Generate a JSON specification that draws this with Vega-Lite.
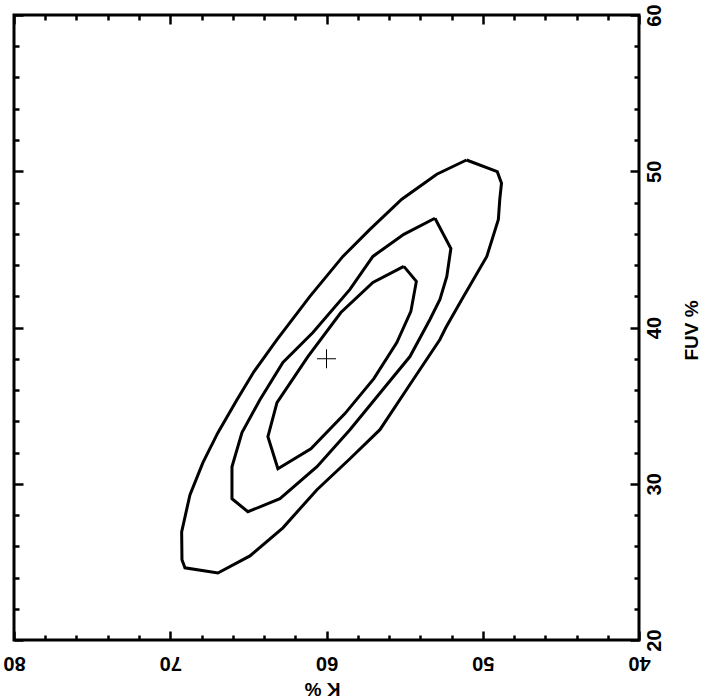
{
  "$schema": "https://vega.github.io/schema/vega-lite/v6.json",
  "width": 625,
  "height": 625,
  "autosize": {"type": "none"},
  "padding": {"left": 14, "top": 15, "right": 67, "bottom": 59},
  "background": "white",
  "config": {
    "view": {"stroke": "black", "strokeWidth": 3},
    "axis": {
      "domain": false,
      "grid": false,
      "tickColor": "black",
      "tickWidth": 2.5,
      "labelFont": "Liberation Sans",
      "labelFontWeight": "bold",
      "labelFontSize": 20,
      "labelColor": "black",
      "titleFont": "Liberation Sans",
      "titleFontWeight": "bold",
      "titleFontSize": 19,
      "titleColor": "black"
    }
  },
  "datasets": {
    "contours": [
      {"c": "outer", "i": 0, "k": 51.04, "f": 50.72},
      {"c": "outer", "i": 1, "k": 49.07, "f": 49.97},
      {"c": "outer", "i": 2, "k": 48.8, "f": 49.23},
      {"c": "outer", "i": 3, "k": 48.91, "f": 48.21},
      {"c": "outer", "i": 4, "k": 49.0, "f": 46.92},
      {"c": "outer", "i": 5, "k": 49.74, "f": 44.55},
      {"c": "outer", "i": 6, "k": 51.34, "f": 41.79},
      {"c": "outer", "i": 7, "k": 52.36, "f": 40.0},
      {"c": "outer", "i": 8, "k": 52.74, "f": 39.23},
      {"c": "outer", "i": 9, "k": 54.66, "f": 36.35},
      {"c": "outer", "i": 10, "k": 56.58, "f": 33.46},
      {"c": "outer", "i": 11, "k": 58.5, "f": 31.6},
      {"c": "outer", "i": 12, "k": 60.61, "f": 29.62},
      {"c": "outer", "i": 13, "k": 62.79, "f": 27.18},
      {"c": "outer", "i": 14, "k": 64.9, "f": 25.38},
      {"c": "outer", "i": 15, "k": 66.95, "f": 24.29},
      {"c": "outer", "i": 16, "k": 69.06, "f": 24.62},
      {"c": "outer", "i": 17, "k": 69.25, "f": 25.13},
      {"c": "outer", "i": 18, "k": 69.27, "f": 26.92},
      {"c": "outer", "i": 19, "k": 68.74, "f": 29.29},
      {"c": "outer", "i": 20, "k": 67.91, "f": 31.35},
      {"c": "outer", "i": 21, "k": 66.95, "f": 33.27},
      {"c": "outer", "i": 22, "k": 65.73, "f": 35.38},
      {"c": "outer", "i": 23, "k": 64.64, "f": 37.18},
      {"c": "outer", "i": 24, "k": 63.17, "f": 39.23},
      {"c": "outer", "i": 25, "k": 61.06, "f": 41.99},
      {"c": "outer", "i": 26, "k": 58.95, "f": 44.55},
      {"c": "outer", "i": 27, "k": 57.22, "f": 46.28},
      {"c": "outer", "i": 28, "k": 55.18, "f": 48.21},
      {"c": "outer", "i": 29, "k": 52.94, "f": 49.81},
      {"c": "outer", "i": 30, "k": 51.04, "f": 50.72},
      {"c": "middle", "i": 0, "k": 53.06, "f": 46.99},
      {"c": "middle", "i": 1, "k": 52.04, "f": 45.06},
      {"c": "middle", "i": 2, "k": 52.3, "f": 43.27},
      {"c": "middle", "i": 3, "k": 52.74, "f": 41.79},
      {"c": "middle", "i": 4, "k": 53.38, "f": 40.51},
      {"c": "middle", "i": 5, "k": 54.66, "f": 38.14},
      {"c": "middle", "i": 6, "k": 56.39, "f": 36.03},
      {"c": "middle", "i": 7, "k": 58.5, "f": 33.46},
      {"c": "middle", "i": 8, "k": 60.61, "f": 31.09},
      {"c": "middle", "i": 9, "k": 62.98, "f": 29.04},
      {"c": "middle", "i": 10, "k": 65.03, "f": 28.21},
      {"c": "middle", "i": 11, "k": 66.05, "f": 29.04},
      {"c": "middle", "i": 12, "k": 66.05, "f": 31.09},
      {"c": "middle", "i": 13, "k": 65.41, "f": 33.27},
      {"c": "middle", "i": 14, "k": 64.26, "f": 35.38},
      {"c": "middle", "i": 15, "k": 62.79, "f": 37.76},
      {"c": "middle", "i": 16, "k": 60.87, "f": 39.68},
      {"c": "middle", "i": 17, "k": 58.5, "f": 42.44},
      {"c": "middle", "i": 18, "k": 57.03, "f": 44.55},
      {"c": "middle", "i": 19, "k": 55.05, "f": 45.96},
      {"c": "middle", "i": 20, "k": 53.06, "f": 46.99},
      {"c": "inner", "i": 0, "k": 55.05, "f": 43.91},
      {"c": "inner", "i": 1, "k": 54.25, "f": 42.95},
      {"c": "inner", "i": 2, "k": 54.6, "f": 41.03},
      {"c": "inner", "i": 3, "k": 55.5, "f": 39.04},
      {"c": "inner", "i": 4, "k": 56.97, "f": 36.73},
      {"c": "inner", "i": 5, "k": 58.82, "f": 34.49},
      {"c": "inner", "i": 6, "k": 61.0, "f": 32.24},
      {"c": "inner", "i": 7, "k": 63.11, "f": 30.96},
      {"c": "inner", "i": 8, "k": 63.75, "f": 33.01},
      {"c": "inner", "i": 9, "k": 63.17, "f": 35.19},
      {"c": "inner", "i": 10, "k": 61.19, "f": 38.14},
      {"c": "inner", "i": 11, "k": 59.08, "f": 40.96},
      {"c": "inner", "i": 12, "k": 57.03, "f": 42.88},
      {"c": "inner", "i": 13, "k": 55.05, "f": 43.91}
    ],
    "best": [{"k": 60, "f": 38}]
  },
  "layer": [
    {
      "data": {"name": "contours"},
      "mark": {"type": "line", "color": "black", "strokeWidth": 3, "strokeJoin": "miter"},
      "encoding": {
        "x": {
          "field": "k", "type": "quantitative",
          "scale": {"domain": [80, 40], "nice": false, "zero": false},
          "axis": {
            "orient": "bottom",
            "title": "K %",
            "titleAngle": 180,
            "titleBaseline": "alphabetic",
            "titleAlign": "center",
            "titleX": 308,
            "titleY": 42,
            "values": [40,42,44,46,48,50,52,54,56,58,60,62,64,66,68,70,72,74,76,78,80],
            "labelExpr": "datum.value % 10 === 0 ? datum.value : ''",
            "labelAngle": 180,
            "labelAlign": "center",
            "labelBaseline": "alphabetic",
            "labelPadding": 25,
            "labelFlush": false,
            "labelOverlap": false,
            "tickSize": {"condition": {"test": "datum.value % 10 === 0", "value": -9}, "value": -5}
          }
        },
        "y": {
          "field": "f", "type": "quantitative",
          "scale": {"domain": [20, 60], "nice": false, "zero": false},
          "axis": {
            "orient": "right",
            "title": "FUV %",
            "titleAngle": -90,
            "titleBaseline": "alphabetic",
            "titleAlign": "center",
            "titleX": 58,
            "titleY": 315,
            "values": [20,22,24,26,28,30,32,34,36,38,40,42,44,46,48,50,52,54,56,58,60],
            "labelExpr": "datum.value % 10 === 0 ? datum.value : ''",
            "labelAngle": -90,
            "labelAlign": "center",
            "labelBaseline": "alphabetic",
            "labelPadding": 30,
            "labelFlush": false,
            "labelOverlap": false,
            "tickSize": {"condition": {"test": "datum.value % 10 === 0", "value": -9}, "value": -5}
          }
        },
        "detail": {"field": "c"},
        "order": {"field": "i", "type": "quantitative"}
      }
    },
    {
      "data": {"name": "best"},
      "mark": {"type": "point", "shape": "M-1,0H1M0,-1V1", "size": 361, "filled": false, "stroke": "black", "strokeWidth": 1, "opacity": 1},
      "encoding": {
        "x": {
          "field": "k", "type": "quantitative",
          "axis": {
            "orient": "top", "title": null, "labels": false,
            "values": [40,42,44,46,48,50,52,54,56,58,60,62,64,66,68,70,72,74,76,78,80],
            "tickSize": {"condition": {"test": "datum.value % 10 === 0", "value": -9}, "value": -5}
          }
        },
        "y": {
          "field": "f", "type": "quantitative",
          "axis": {
            "orient": "left", "title": null, "labels": false,
            "values": [20,22,24,26,28,30,32,34,36,38,40,42,44,46,48,50,52,54,56,58,60],
            "tickSize": {"condition": {"test": "datum.value % 10 === 0", "value": -9}, "value": -5}
          }
        }
      }
    }
  ],
  "resolve": {"axis": {"x": "independent", "y": "independent"}}
}
